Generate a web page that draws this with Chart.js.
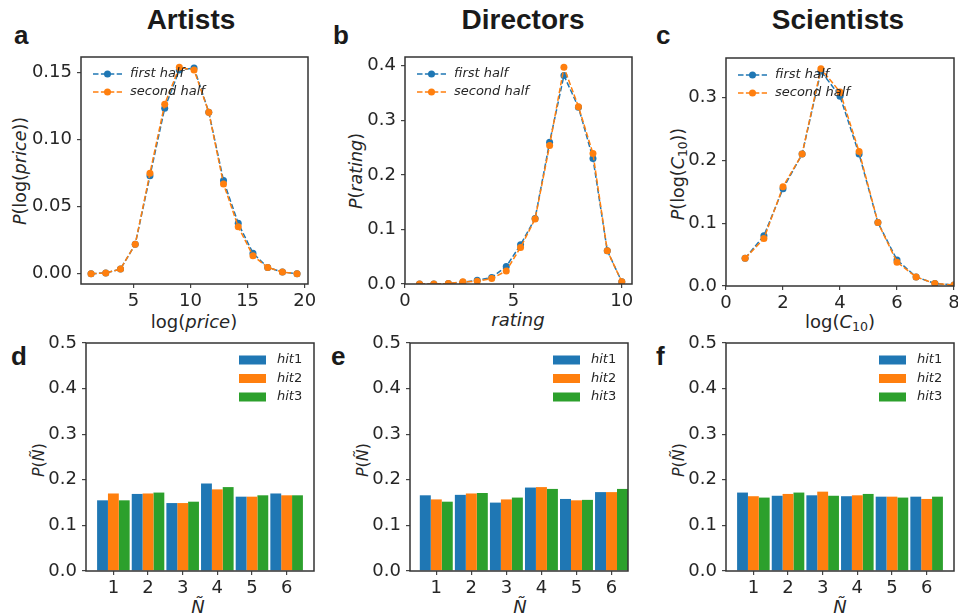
<!DOCTYPE html>
<html>
<head>
<meta charset="utf-8">
<script src="https://cdn.jsdelivr.net/npm/chart.js@4.4.0/dist/chart.umd.min.js"></script>
<style>
  body { margin: 0; width: 958px; height: 616px; background: #fff; position: relative; overflow: hidden; color: #262626; }
  canvas { position: absolute; }
  .t { position: absolute; white-space: nowrap; line-height: 1; transform: translateX(-50%); }
  .head { font: bold 28px "Liberation Sans", Arial, sans-serif; color: #1a1a1a; }
  .letter { position: absolute; line-height: 1; font: bold 26px "Liberation Sans", Arial, sans-serif; color: #1a1a1a; }
  .xl { font: 18px "DejaVu Sans", sans-serif; }
  .yl { position: absolute; white-space: nowrap; line-height: 1; font: 17.5px "DejaVu Sans", sans-serif; transform: translate(-50%, -50%) rotate(-90deg); }
  .yl.small { font-size: 16px; }
  i { font-style: italic; }
  sub { font-size: 70%; vertical-align: -0.25em; line-height: 0; }
</style>
</head>
<body>

<div class="t head" style="left:191px;top:4px">Artists</div>
<div class="t head" style="left:523px;top:4px">Directors</div>
<div class="t head" style="left:838px;top:4px">Scientists</div>

<div class="letter" style="left:14px;top:20px">a</div>
<div class="letter" style="left:333px;top:20px">b</div>
<div class="letter" style="left:656px;top:20px">c</div>
<div class="letter" style="left:11px;top:341px">d</div>
<div class="letter" style="left:331px;top:341px">e</div>
<div class="letter" style="left:656px;top:341px">f</div>

<div class="t xl" style="left:194px;top:311px">log(<i>price</i>)</div>
<div class="t xl" style="left:518px;top:309px"><i>rating</i></div>
<div class="t xl" style="left:840px;top:311px">log(<i>C</i><sub>10</sub>)</div>
<div class="t xl" style="left:198px;top:596px"><i>Ñ</i></div>
<div class="t xl" style="left:520px;top:596px"><i>Ñ</i></div>
<div class="t xl" style="left:840px;top:596px"><i>Ñ</i></div>

<div class="yl" style="left:20px;top:171px"><i>P</i>(log(<i>price</i>))</div>
<div class="yl" style="left:356px;top:171px"><i>P</i>(<i>rating</i>)</div>
<div class="yl" style="left:678px;top:174px"><i>P</i>(log(<i>C</i><sub>10</sub>))</div>
<div class="yl small" style="left:38px;top:460px"><i>P</i>(<i>Ñ</i>)</div>
<div class="yl small" style="left:362px;top:460px"><i>P</i>(<i>Ñ</i>)</div>
<div class="yl small" style="left:678px;top:460px"><i>P</i>(<i>Ñ</i>)</div>

<script>
// ---- data ----
const halfLabels = ['first half', 'second half'];
const hitLabels = ['hit1', 'hit2', 'hit3'];

const artistsX = [1.29, 2.58, 3.87, 5.16, 6.45, 7.74, 9.02, 10.31, 11.60, 12.89, 14.18, 15.47, 16.76, 18.05, 19.33];
const artistsFirst = [0.000, 0.0005, 0.0035, 0.022, 0.073, 0.1235, 0.152, 0.1535, 0.1205, 0.0695, 0.0376, 0.0153, 0.0047, 0.0012, 0.000];
const artistsSecond = [0.000, 0.0005, 0.0035, 0.022, 0.075, 0.1265, 0.154, 0.152, 0.1205, 0.067, 0.035, 0.0134, 0.0047, 0.0012, 0.000];

const directorsX = [0.67, 1.33, 2.0, 2.67, 3.33, 4.0, 4.67, 5.33, 6.0, 6.67, 7.33, 8.0, 8.67, 9.33, 10.0];
const directorsFirst = [0.000, 0.000, 0.001, 0.003, 0.007, 0.012, 0.032, 0.072, 0.120, 0.260, 0.382, 0.324, 0.230, 0.061, 0.004];
const directorsSecond = [0.000, 0.000, 0.001, 0.004, 0.005, 0.010, 0.024, 0.067, 0.119, 0.254, 0.397, 0.325, 0.239, 0.061, 0.004];

const scientistsX = [0.67, 1.33, 2.0, 2.67, 3.33, 4.0, 4.67, 5.33, 6.0, 6.67, 7.33, 8.0];
const scientistsFirst = [0.044, 0.080, 0.155, 0.210, 0.342, 0.302, 0.210, 0.101, 0.0415, 0.0144, 0.004, 0.0015];
const scientistsSecond = [0.044, 0.0755, 0.158, 0.210, 0.346, 0.309, 0.214, 0.101, 0.038, 0.0144, 0.004, 0.0015];

const nTilde = [1, 2, 3, 4, 5, 6];
const artistsHit1 = [0.155, 0.169, 0.149, 0.192, 0.163, 0.170];
const artistsHit2 = [0.170, 0.170, 0.149, 0.179, 0.163, 0.166];
const artistsHit3 = [0.155, 0.172, 0.152, 0.184, 0.166, 0.166];
const directorsHit1 = [0.166, 0.167, 0.150, 0.183, 0.158, 0.173];
const directorsHit2 = [0.157, 0.170, 0.157, 0.184, 0.155, 0.173];
const directorsHit3 = [0.152, 0.171, 0.161, 0.180, 0.156, 0.180];
const scientistsHit1 = [0.172, 0.165, 0.166, 0.164, 0.163, 0.163];
const scientistsHit2 = [0.164, 0.169, 0.174, 0.166, 0.163, 0.158];
const scientistsHit3 = [0.161, 0.172, 0.165, 0.169, 0.161, 0.163];

// tick values
const artistsXTicks = [5, 10, 15, 20];
const artistsYTicks = [0, 0.05, 0.10, 0.15];
const directorsXTicks = [0, 5, 10];
const directorsYTicks = [0, 0.1, 0.2, 0.3, 0.4];
const scientistsXTicks = [0, 2, 4, 6, 8];
const scientistsYTicks = [0, 0.1, 0.2, 0.3];
const barYTicks = [0, 0.1, 0.2, 0.3, 0.4, 0.5];

// ---- look ----
const BLUE = '#1f77b4', ORANGE = '#ff7f0e', GREEN = '#2ca02c';
const YW = 70, XH = 36, PT = 16, PR = 16;
const tickFont = { family: 'DejaVu Sans', size: 18 };

// frame around the plot + legend inside the axes, like matplotlib
const panelDecor = {
    id: 'panelDecor',
    afterDatasetsDraw(chart, args, opts) {
        const ctx = chart.ctx;
        const a = chart.chartArea;
        ctx.save();
        ctx.strokeStyle = '#333';
        ctx.lineWidth = 1.5;
        ctx.strokeRect(a.left, a.top, a.right - a.left, a.bottom - a.top);

        ctx.textBaseline = 'middle';
        ctx.fillStyle = '#262626';
        const sets = chart.data.datasets;
        if (opts.kind === 'line') {
            sets.forEach((ds, i) => {
                const y = a.top + 17 + i * 18;
                const x0 = a.left + 12;
                ctx.strokeStyle = ds.borderColor;
                ctx.lineWidth = 1.5;
                ctx.setLineDash([5.5, 2.4]);
                ctx.beginPath();
                ctx.moveTo(x0, y);
                ctx.lineTo(x0 + 29, y);
                ctx.stroke();
                ctx.setLineDash([]);
                ctx.fillStyle = ds.borderColor;
                ctx.beginPath();
                ctx.arc(x0 + 14.5, y, 3.5, 0, Math.PI * 2);
                ctx.fill();
                ctx.fillStyle = '#262626';
                ctx.font = 'italic 13px "DejaVu Sans"';
                ctx.fillText(ds.label, x0 + 37, y);
            });
        } else if (opts.kind === 'bar') {
            sets.forEach((ds, i) => {
                const y = a.top + 17 + i * 18.5;
                const x0 = a.right - 75;
                ctx.fillStyle = ds.backgroundColor;
                ctx.fillRect(x0, y - 4.5, 27, 9);
                ctx.fillStyle = '#262626';
                const word = ds.label.replace(/\d+$/, '');
                const num = ds.label.slice(word.length);
                ctx.font = 'italic 13px "DejaVu Sans"';
                ctx.fillText(word, x0 + 38, y);
                const w = ctx.measureText(word).width;
                ctx.font = '13px "DejaVu Sans"';
                ctx.fillText(num, x0 + 38 + w, y);
            });
        }
        ctx.restore();
    }
};

function makeCanvas(box) {
    const c = document.createElement('canvas');
    c.width = box.r - box.l + YW + PR;
    c.height = box.b - box.t + PT + XH;
    c.style.left = (box.l - YW) + 'px';
    c.style.top = (box.t - PT) + 'px';
    c.style.width = c.width + 'px';
    c.style.height = c.height + 'px';
    document.body.appendChild(c);
    return c;
}

function axis(min, max, ticks, fmt, isX) {
    return {
        type: 'linear',
        min: min,
        max: max,
        offset: false,
        afterBuildTicks: s => { s.ticks = ticks.map(v => ({ value: v })); },
        afterFit: s => { if (isX) s.height = XH; else s.width = YW; },
        ticks: {
            font: tickFont,
            color: '#262626',
            padding: isX ? 3 : 5,
            autoSkip: false,
            maxRotation: 0,
            callback: v => fmt(v)
        },
        grid: { display: true, offset: false, drawOnChartArea: false, drawTicks: true, tickLength: 4, color: '#444', lineWidth: 1.2 },
        border: { display: false }
    };
}

function baseOptions(kind, xAxis, yAxis) {
    return {
        responsive: false,
        animation: false,
        devicePixelRatio: 1,
        layout: { padding: { top: PT, right: PR, left: 0, bottom: 0 } },
        plugins: { legend: { display: false }, tooltip: { enabled: false }, panelDecor: { kind: kind } },
        scales: { x: xAxis, y: yAxis }
    };
}

function lineSet(label, xs, ys, color, order) {
    return {
        label: label,
        data: xs.map((x, i) => ({ x: x, y: ys[i] })),
        borderColor: color,
        backgroundColor: color,
        borderWidth: 1.5,
        borderDash: [5.5, 2.4],
        pointRadius: 3.5,
        pointBorderWidth: 0,
        pointBackgroundColor: color,
        tension: 0,
        order: order
    };
}

function linePanel(box, xs, first, second, xr, yr, xTicks, yTicks, yDec) {
    new Chart(makeCanvas(box), {
        type: 'line',
        data: { datasets: [
            lineSet(halfLabels[0], xs, first, BLUE, 1),
            lineSet(halfLabels[1], xs, second, ORANGE, 0)
        ] },
        options: baseOptions('line',
            axis(xr[0], xr[1], xTicks, v => String(v), true),
            axis(yr[0], yr[1], yTicks, v => v.toFixed(yDec), false)),
        plugins: [panelDecor]
    });
}

function barPanel(box, h1, h2, h3, xr) {
    const colors = [BLUE, ORANGE, GREEN];
    const series = [h1, h2, h3];
    new Chart(makeCanvas(box), {
        type: 'bar',
        data: { datasets: series.map((s, k) => ({
            label: hitLabels[k],
            data: nTilde.map((n, i) => ({ x: n, y: s[i] })),
            backgroundColor: colors[k],
            borderWidth: 0,
            categoryPercentage: 0.94,
            barPercentage: 1.0
        })) },
        options: baseOptions('bar',
            axis(xr[0], xr[1], nTilde, v => String(v), true),
            axis(0, 0.5, barYTicks, v => v.toFixed(1), false)),
        plugins: [panelDecor]
    });
}

// plot boxes (page pixels)
const boxA = { l: 81, t: 57, r: 308, b: 284 };
const boxB = { l: 405, t: 57, r: 632, b: 284 };
const boxC = { l: 726, t: 58, r: 954, b: 286 };
const boxD = { l: 86, t: 343, r: 314, b: 571 };
const boxE = { l: 410, t: 343, r: 628, b: 571 };
const boxF = { l: 726, t: 343, r: 954, b: 571 };

linePanel(boxA, artistsX, artistsFirst, artistsSecond, [0.41, 20.29], [-0.0077, 0.1617], artistsXTicks, artistsYTicks, 2);
linePanel(boxB, directorsX, directorsFirst, directorsSecond, [0, 10.47], [0, 0.416], directorsXTicks, directorsYTicks, 1);
linePanel(boxC, scientistsX, scientistsFirst, scientistsSecond, [0, 8], [0, 0.363], scientistsXTicks, scientistsYTicks, 1);

barPanel(boxD, artistsHit1, artistsHit2, artistsHit3, [0.21, 6.79]);
barPanel(boxE, directorsHit1, directorsHit2, directorsHit3, [0.25, 6.47]);
barPanel(boxF, scientistsHit1, scientistsHit2, scientistsHit3, [0.21, 6.79]);
</script>
</body>
</html>
